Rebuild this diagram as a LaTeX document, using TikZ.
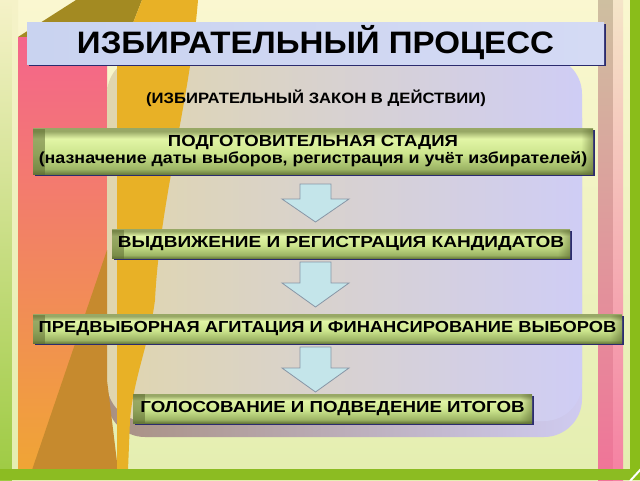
\documentclass[tikz,border=0pt]{standalone}
\usepackage{fontspec}
\setmainfont{Liberation Sans}
\newfontfamily\titlefont{Liberation Sans}[FakeStretch=1.067]
\newfontfamily\subfont{Liberation Sans}[FakeStretch=1.11]
\newfontfamily\boxfonta{Liberation Sans}[FakeStretch=1.16]
\newfontfamily\boxfontb{Liberation Sans}[FakeStretch=1.115]
\newfontfamily\boxfontc{Liberation Sans}[FakeStretch=1.19]
\newfontfamily\boxfontd{Liberation Sans}[FakeStretch=1.145]
\newfontfamily\boxfonte{Liberation Sans}[FakeStretch=1.17]
\usetikzlibrary{calc,fadings}
\definecolor{bgTop}{HTML}{FAF7D0}
\definecolor{bgBot}{HTML}{E4EEB0}
\definecolor{lsTop}{HTML}{F5F2C8}
\definecolor{lsMid}{HTML}{E9EDB4}
\definecolor{lsBot}{HTML}{9DCA42}
\definecolor{oliveTop}{HTML}{A38A22}
\definecolor{pkTop}{HTML}{F4658C}
\definecolor{pkMid}{HTML}{F48A70}
\definecolor{pkBot}{HTML}{F0A535}
\definecolor{brn}{HTML}{C68A2E}
\definecolor{gold}{HTML}{E8B126}
\definecolor{rbaTop}{HTML}{CEBFA0}
\definecolor{rbaBot}{HTML}{F07398}
\definecolor{rbbTop}{HTML}{F5E5C8}
\definecolor{rbbBot}{HTML}{F580A2}
\definecolor{grR}{HTML}{8ABD1A}
\definecolor{grB}{HTML}{8CBC22}
\definecolor{ctL}{HTML}{E0D6AE}
\definecolor{ctM}{HTML}{F1DDD6}
\definecolor{ctR}{HTML}{CFCDF5}
\definecolor{shL}{HTML}{A89082}
\definecolor{shR}{HTML}{CFCBF0}
\definecolor{ttlA}{HTML}{C9D3F0}
\definecolor{ttlB}{HTML}{D4DAF4}
\definecolor{navy}{HTML}{2B2B6E}
\definecolor{bxT}{HTML}{98A866}
\definecolor{bxL}{HTML}{E2F5A6}
\definecolor{bxLL}{HTML}{CDE68E}
\definecolor{bxM}{HTML}{9CB464}
\definecolor{bxD}{HTML}{66783A}
\definecolor{endc}{HTML}{5C6A30}
\definecolor{arrF}{HTML}{C4E5EA}
\definecolor{arrL}{HTML}{8896A6}
\pgfdeclareverticalshading{boxshade}{100bp}{color(0bp)=(bxD); color(25bp)=(bxD); color(31bp)=(bxM); color(48bp)=(bxLL); color(64bp)=(bxL); color(72bp)=(bxT); color(75bp)=(bxT); color(100bp)=(bxT)}
\tikzfading[name=fadeToRight, left color=transparent!0, right color=transparent!100]
\tikzfading[name=fadeToLeft, left color=transparent!100, right color=transparent!0]
\newcommand\blockarrow[4]{%
  \filldraw[arrsty] ({#1-15.5},#2) -- ({#1+15.5},#2) -- ({#1+15.5},#3) -- ({#1+33.5},#3)
    -- (#1,#4) -- ({#1-33.5},#3) -- ({#1-15.5},#3) -- cycle;}
\begin{document}
\begin{tikzpicture}[x=1pt,y=-1pt,
  gbox/.style={rectangle, inner sep=0pt, outer sep=0pt, shading=boxshade,
    preaction={fill=navy, transform canvas={shift={(1.6pt,-1.6pt)}}},
    font=\boxfonta\fontsize{16}{17}\selectfont\bfseries, text=black, align=center,
    path picture={
      \fill[endc, path fading=fadeToRight, fill opacity=0.55]
        (path picture bounding box.north west) rectangle ([xshift=12pt]path picture bounding box.south west);
      \fill[endc, path fading=fadeToLeft, fill opacity=0.55]
        ([xshift=-12pt]path picture bounding box.north east) rectangle (path picture bounding box.south east);
    }},
  titlebox/.style={rectangle, inner sep=0pt, outer sep=0pt, left color=ttlA, right color=ttlB,
    preaction={fill=navy, transform canvas={shift={(1.6pt,-1.6pt)}}},
    font=\titlefont\fontsize{31}{31}\selectfont\bfseries, text=black},
  subtxt/.style={inner sep=0pt, font=\subfont\fontsize{15}{15}\selectfont\bfseries, text=black},
  arrsty/.style={fill=arrF, draw=arrL, line width=0.8pt, line join=miter}
]
\useasboundingbox (0,0) rectangle (640,480);
\clip (0,0) rectangle (640,480);
% background
\shade[top color=bgTop, bottom color=bgBot] (0,0) rectangle (640,480);
% left strip
\shade[top color=lsTop, middle color=lsMid, bottom color=lsBot] (0,0) rectangle (12,480);
\shade[top color=lsTop, bottom color=bgBot] (12,0) rectangle (18,480);
% olive top shape
\fill[oliveTop] (18,37) -- (76,0) -- (142,0) -- (117,64) -- (18,64) -- cycle;
% pink panel
\shade[top color=pkTop, middle color=pkMid, bottom color=pkBot] (18,37) rectangle (107,470);
% right bars
\shade[top color=rbaTop, bottom color=rbaBot] (598,0) rectangle (613,480);
\shade[top color=rbbTop, bottom color=rbbBot] (613,0) rectangle (623,480);
\fill[grR] (630,0) rectangle (640,480);
% central rounded panel with its shadow
\shade[left color=shL, right color=shR, rounded corners=38pt] (107,80) rectangle (582,437);
\shade[left color=ctL, middle color=ctM, right color=ctR, rounded corners=38pt] (107,56) rectangle (582,421);
% brown triangle
\fill[brn] (107,250) -- (32,470) -- (118,470) -- (107,380) -- cycle;
% golden band
\fill[gold] (142,0) -- (198,0) .. controls (190,100) and (160,200) .. (155,300)
  .. controls (150,340) and (133,380) .. (130,420) -- (128,470) -- (117,470) -- (117,64) -- cycle;
% bottom band
\fill[grB] (0,469) rectangle (630,480);
\draw[white, line width=2pt] (630,481) -- (641,469);
% title
\node[titlebox, minimum width=577pt, minimum height=42pt] (title) at (315.5,43) {ИЗБИРАТЕЛЬНЫЙ ПРОЦЕСС};
\node[subtxt] (sub) at (316,98) {(ИЗБИРАТЕЛЬНЫЙ ЗАКОН В ДЕЙСТВИИ)};
% stage boxes
\node[gbox, minimum width=560pt, minimum height=46pt] (b1) at (313,151.5)
  {ПОДГОТОВИТЕЛЬНАЯ СТАДИЯ\\{\boxfontb\bfseries (назначение даты выборов, регистрация и учёт избирателей)}};
\node[gbox, minimum width=458pt, minimum height=29pt, font=\boxfontc\fontsize{16}{17}\selectfont\bfseries] (b2) at (341,244)
  {ВЫДВИЖЕНИЕ И РЕГИСТРАЦИЯ КАНДИДАТОВ};
\node[gbox, minimum width=589pt, minimum height=29pt, font=\boxfontd\fontsize{16}{17}\selectfont\bfseries] (b3) at (327.5,329)
  {ПРЕДВЫБОРНАЯ АГИТАЦИЯ И ФИНАНСИРОВАНИЕ ВЫБОРОВ};
\node[gbox, minimum width=399pt, minimum height=29pt, font=\boxfonte\fontsize{16}{17}\selectfont\bfseries] (b4) at (332.5,408.5)
  {ГОЛОСОВАНИЕ И ПОДВЕДЕНИЕ ИТОГОВ};
% arrows between stages
\blockarrow{315.5}{184}{199}{222}
\blockarrow{315.5}{262}{283}{307}
\blockarrow{315.5}{347}{368}{392}
\end{tikzpicture}
\end{document}
